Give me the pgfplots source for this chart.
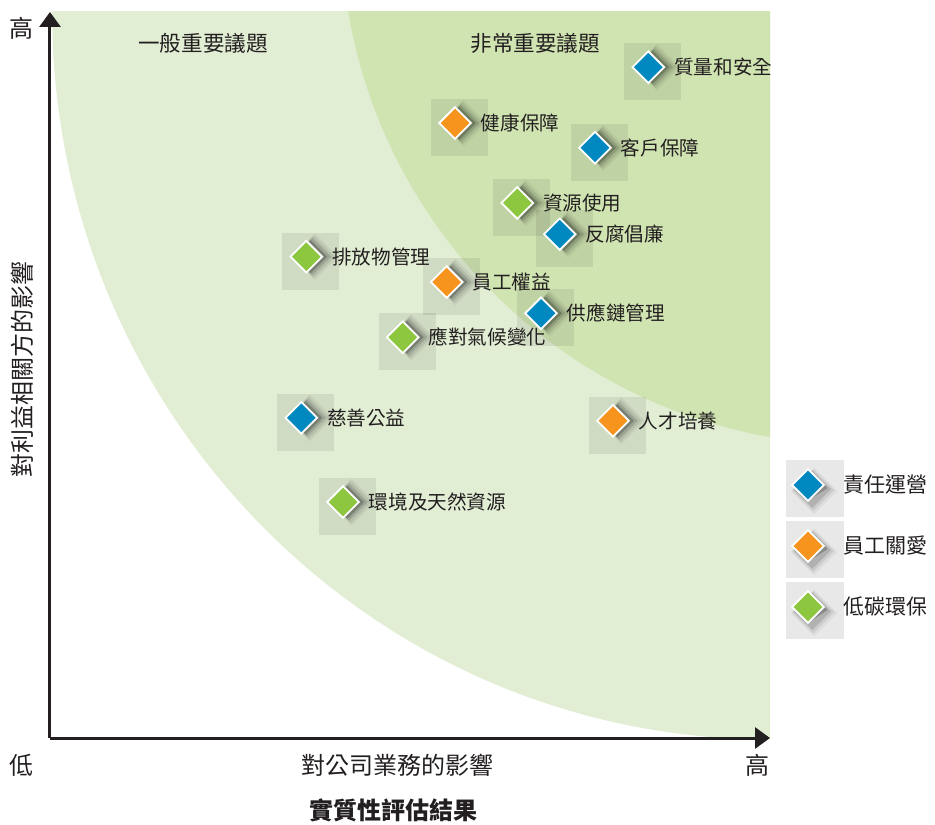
\documentclass[border=0pt]{standalone}
\usepackage{fontspec}
\setmainfont{Noto Sans CJK TC}
\usepackage{pgfplots}
\usepackage{pgfplotstable}
\pgfplotsset{compat=1.18}
\usetikzlibrary{arrows.meta}
\definecolor{cblue}{HTML}{0088C0}
\definecolor{corange}{HTML}{F7941D}
\definecolor{cgreen}{HTML}{8DC63F}
\definecolor{lightbg}{HTML}{E1EED4}
\definecolor{darkbg}{HTML}{D0E4B2}
\definecolor{txt}{HTML}{231F20}

\pgfplotstableread{
x y label
8.31 9.24 質量和安全
7.57 8.13 客戶保障
7.08 6.94 反腐倡廉
6.82 5.85 供應鏈管理
3.49 4.41 慈善公益
}\blueT
\pgfplotstableread{
x y label
5.625 8.47 健康保障
5.51 6.28 員工權益
7.82 4.37 人才培養
}\orangeT
\pgfplotstableread{
x y label
6.49 7.37 資源使用
3.56 6.63 排放物管理
4.90 5.52 應對氣候變化
4.07 3.25 環境及天然資源
}\greenT

\pgfplotsset{
  greysq/.style={forget plot, only marks, draw=none, draw opacity=0, mark=square*, mark size=14.25pt,
    mark options={fill=black, draw=none, draw opacity=0, fill opacity=0.08, xshift=2.25pt, yshift=-2.25pt}},
  shadowX/.style n args={3}{forget plot, only marks, draw=none, draw opacity=0, mark=square*, mark size=#1,
    mark options={rotate=45, fill=black, draw=none, draw opacity=0, fill opacity=#2, xshift=#3, yshift=-#3}},
  dia/.style={only marks, mark=square*, mark size=5.6pt,
    mark options={rotate=45, fill=#1, draw=white, line width=0.9pt},
    nodes near coords, point meta=explicit symbolic,
    every node near coord/.append style={anchor=west, inner sep=0pt, xshift=12.5pt,
      font=\fontsize{9.8}{11}\selectfont, text=txt}},
}
\newcommand{\shadows}[1]{%
  \addplot[shadowX={8.2pt}{0.05}{3pt}] table[x=x,y=y] {#1};
  \addplot[shadowX={7.4pt}{0.08}{2.6pt}] table[x=x,y=y] {#1};
  \addplot[shadowX={6.6pt}{0.13}{2.1pt}] table[x=x,y=y] {#1};
  \addplot[shadowX={5.9pt}{0.22}{1.5pt}] table[x=x,y=y] {#1};
}

\begin{document}
\begin{tikzpicture}
\useasboundingbox (0,0) rectangle (467.5pt,412pt);
\begin{axis}[at={(25pt,43pt)}, anchor=south west,
  width=360pt, height=363pt, scale only axis,
  xmin=0, xmax=10, ymin=0, ymax=10,
  axis lines=left,
  axis line style={line width=1.5pt, draw=txt, -{Triangle[length=7.5pt,width=10.5pt]}},
  xtick=\empty, ytick=\empty,
  clip=true, axis on top,
  legend style={at={(1.0222,0.3829)}, anchor=north west, draw=none, fill=none,
    inner sep=0pt, outer sep=0pt, row sep=2pt,
    nodes={inner sep=0pt}, cells={anchor=west},
    font=\fontsize{10.5}{12}\selectfont, text=txt,
    /tikz/every even column/.append style={column sep=5pt}},
  legend image code/.code={
    \path[fill=black, draw=none, fill opacity=0.09] (-11pt,-16pt) rectangle (18pt,12.5pt);
    \path[fill=black, draw=none, fill opacity=0.05] (3pt,-14.6pt) -- (14.6pt,-3pt) -- (3pt,8.6pt) -- (-8.6pt,-3pt) -- cycle;
    \path[fill=black, draw=none, fill opacity=0.08] (2.6pt,-13pt) -- (13pt,-2.6pt) -- (2.6pt,7.8pt) -- (-7.8pt,-2.6pt) -- cycle;
    \path[fill=black, draw=none, fill opacity=0.13] (2.1pt,-11.4pt) -- (11.4pt,-2.1pt) -- (2.1pt,7.2pt) -- (-7.2pt,-2.1pt) -- cycle;
    \path[fill=black, draw=none, fill opacity=0.22] (1.5pt,-6.85pt) -- (9.85pt,-1.5pt) -- (1.5pt,6.85pt) -- (-6.85pt,-1.5pt) -- cycle;
    \draw plot coordinates {(0pt,0pt)};
  },
]
% background regions
\fill[lightbg] (axis cs:10,10) ellipse [x radius=9.97, y radius=10.02];
\fill[darkbg] (axis cs:11.264,11.198) ellipse [x radius=7.222, y radius=7.163];

\node[font=\fontsize{10.8}{12}\selectfont, text=txt] at (axis cs:2.125,9.57) {一般重要議題};
\node[font=\fontsize{10.8}{12}\selectfont, text=txt] at (axis cs:6.74,9.57) {非常重要議題};

% grey squares
\addplot[greysq] table[x=x,y=y] {\blueT};
\addplot[greysq] table[x=x,y=y] {\orangeT};
\addplot[greysq] table[x=x,y=y] {\greenT};
% shadows
\shadows{\blueT}
\shadows{\orangeT}
\shadows{\greenT}
% diamonds
\addplot[dia=cblue] table[x=x,y=y,meta=label] {\blueT};
\addlegendentry{責任運營}
\addplot[dia=corange] table[x=x,y=y,meta=label] {\orangeT};
\addlegendentry{員工關愛}
\addplot[dia=cgreen] table[x=x,y=y,meta=label] {\greenT};
\addlegendentry{低碳環保}
\end{axis}

\node[font=\fontsize{12}{14}\selectfont, text=txt] at (11pt,398pt) {高};
\node[font=\fontsize{12}{14}\selectfont, text=txt] at (11pt,29.5pt) {低};
\node[font=\fontsize{12}{14}\selectfont, text=txt, rotate=90] at (11pt,227pt) {對利益相關方的影響};
\node[font=\fontsize{12}{14}\selectfont, text=txt] at (198.5pt,29.5pt) {對公司業務的影響};
\node[font=\fontsize{12}{14}\selectfont, text=txt] at (378.5pt,29.5pt) {高};
\node[font=\fontsize{12}{14}\selectfont\bfseries, text=txt] at (196.5pt,7pt) {實質性評估結果};
\end{tikzpicture}
\end{document}
